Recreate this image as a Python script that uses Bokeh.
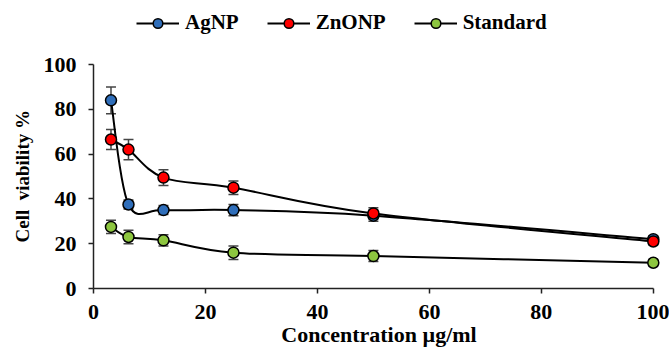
from bokeh.plotting import figure
from bokeh.models import Range1d, Whisker, ColumnDataSource, Legend, LegendItem, FixedTicker, TeeHead, Title
from bokeh.embed import file_html
from bokeh.resources import INLINE

conc = [3.125, 6.25, 12.5, 25, 50, 100]
agnp = [84, 37.5, 35, 35, 32.5, 22]
agnp_err = [6, 2, 2, 2.5, 2.5, 1.5]
znonp = [66.5, 62, 49.5, 45, 33.5, 21]
znonp_err = [4.5, 4.5, 3.5, 3, 2.5, 1.5]
standard = [27.5, 23, 21.5, 16, 14.5, 11.5]
standard_err = [3, 3, 2.5, 3, 2.5, 1.5]
series_names = ["AgNP", "ZnONP", "Standard"]
colors = ["#2F6EBA", "#FF0000", "#8DC63F"]
x_ticks = [0, 20, 40, 60, 80, 100]
y_ticks = [0, 20, 40, 60, 80, 100]

FONT = "Liberation Serif"

# frame spans the full height above the x axis; y axis drawn only 0..100
p = figure(width=669, height=351, output_backend="svg", toolbar_location=None,
           x_range=Range1d(0, 102), y_range=Range1d(0, 100 * 288 / 224),
           min_border_left=93, min_border_right=5, min_border_top=0, min_border_bottom=63)
p.outline_line_color = None
p.xgrid.visible = False
p.ygrid.visible = False
p.background_fill_color = "white"


def smooth_segments(xs, ys):
    n = len(xs)
    seg = dict(x0=[], y0=[], x1=[], y1=[], cx0=[], cy0=[], cx1=[], cy1=[])
    for i in range(n - 1):
        xm = xs[i - 1] if i > 0 else xs[i]
        ym = ys[i - 1] if i > 0 else ys[i]
        xp = xs[i + 2] if i + 2 < n else xs[i + 1]
        yp = ys[i + 2] if i + 2 < n else ys[i + 1]
        seg["x0"].append(xs[i]); seg["y0"].append(ys[i])
        seg["x1"].append(xs[i + 1]); seg["y1"].append(ys[i + 1])
        seg["cx0"].append(xs[i] + (xs[i + 1] - xm) / 6.0)
        seg["cy0"].append(ys[i] + (ys[i + 1] - ym) / 6.0)
        seg["cx1"].append(xs[i + 1] - (xp - xs[i]) / 6.0)
        seg["cy1"].append(ys[i + 1] - (yp - ys[i]) / 6.0)
    return seg


all_vals = [agnp, znonp, standard]
all_errs = [agnp_err, znonp_err, standard_err]

curve_rs = []
for name, vals, errs, col in zip(series_names, all_vals, all_errs, colors):
    seg = smooth_segments(conc, vals)
    r = p.bezier(x0="x0", y0="y0", x1="x1", y1="y1", cx0="cx0", cy0="cy0", cx1="cx1", cy1="cy1",
                 source=ColumnDataSource(seg), line_color="black", line_width=2)
    curve_rs.append(r)

items = []
for name, vals, errs, col, cr in zip(series_names, all_vals, all_errs, colors, curve_rs):
    src = ColumnDataSource(dict(x=conc, y=vals,
                                upper=[v + e for v, e in zip(vals, errs)],
                                lower=[v - e for v, e in zip(vals, errs)]))
    w = Whisker(source=src, base="x", upper="upper", lower="lower",
                line_color="#454545", line_width=1.5,
                upper_head=TeeHead(size=10, line_color="#454545", line_width=1.5),
                lower_head=TeeHead(size=10, line_color="#454545", line_width=1.5))
    p.add_layout(w)
    sr = p.scatter(x="x", y="y", source=src, size=11, marker="circle",
                   fill_color=col, line_color="black", line_width=1.5)
    items.append(LegendItem(label=name, renderers=[cr, sr]))

legend = Legend(items=items, orientation="horizontal", location=(43, 253),
                glyph_width=43, glyph_height=24, label_standoff=6, spacing=28,
                padding=0, margin=0, border_line_color=None, background_fill_alpha=0,
                label_text_font=FONT, label_text_font_style="bold",
                label_text_font_size="21px", label_text_color="black")
p.add_layout(legend)

for ax in (p.xaxis[0], p.yaxis[0]):
    ax.axis_line_color = "#222222"
    ax.axis_line_width = 1.5
    ax.major_tick_line_color = "#222222"
    ax.major_tick_line_width = 1.5
    ax.major_tick_in = 0
    ax.major_tick_out = 5
    ax.minor_tick_line_color = None
    ax.major_label_text_font = FONT
    ax.major_label_text_font_style = "bold"
    ax.major_label_text_font_size = "22px"
    ax.major_label_text_color = "black"
    ax.axis_label_text_font = FONT
    ax.axis_label_text_font_style = "bold"
    ax.axis_label_text_color = "black"

p.xaxis.axis_label_text_font_size = "22px"
p.xaxis.ticker = FixedTicker(ticks=x_ticks)
p.yaxis.ticker = FixedTicker(ticks=y_ticks)
p.xaxis.bounds = (0, 100)
p.yaxis.bounds = (0, 100)
p.xaxis.axis_label = "Concentration µg/ml"
p.xaxis.major_label_standoff = 11
p.xaxis.axis_label_standoff = 0
p.yaxis.major_label_standoff = 12

ytitle = Title(text="Cell\u00a0 viability %", align="left", offset=46,
               text_font=FONT, text_font_style="bold", text_font_size="19px",
               text_color="black", standoff=16)
p.add_layout(ytitle, "left")

open("out.html", "w").write(file_html(p, INLINE))
